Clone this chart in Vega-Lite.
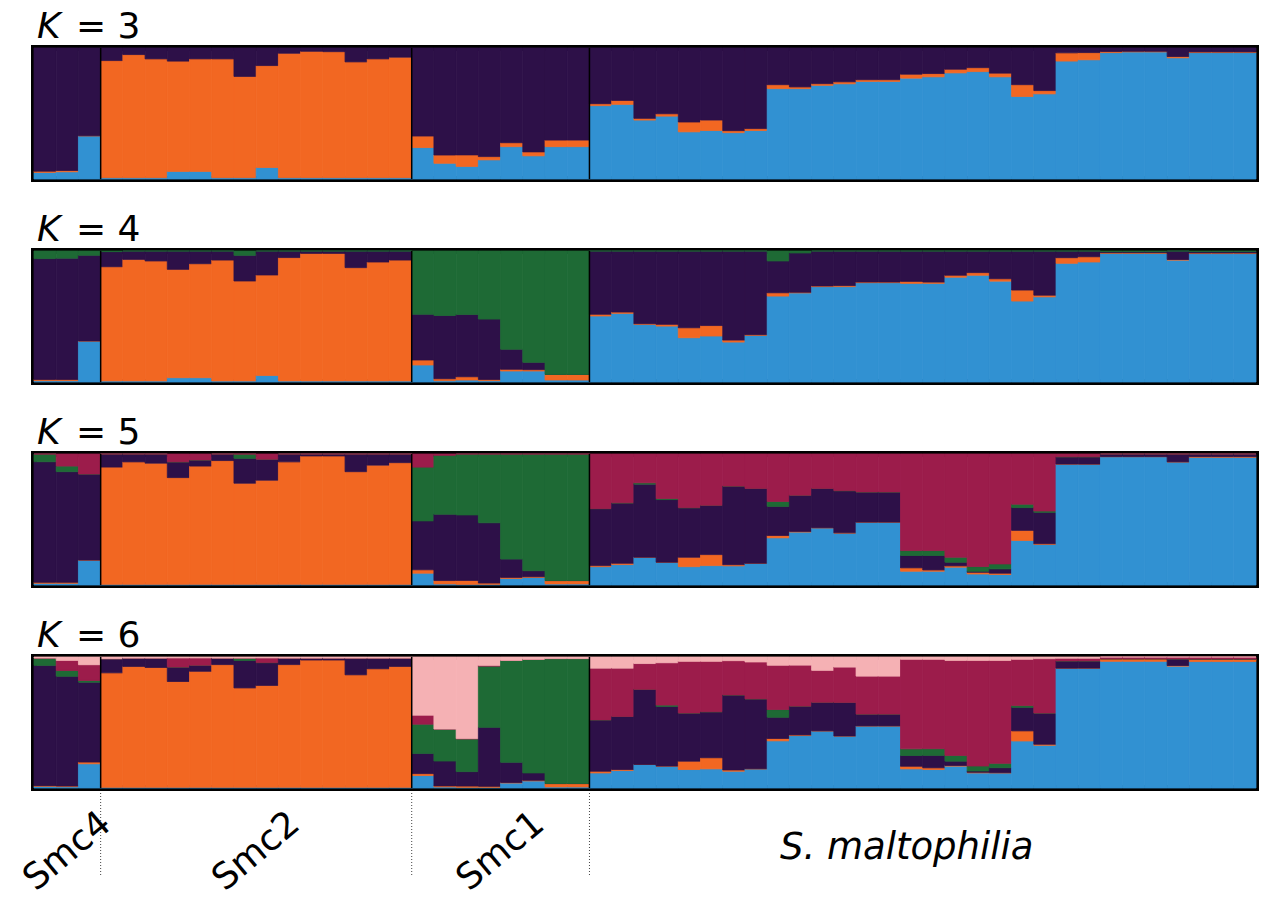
{
"$schema": "https://vega.github.io/schema/vega-lite/v6.json",
"background": "white",
"padding": {"left": 17, "top": 6, "right": 2, "bottom": 2},
"config": {"view": {"stroke": null}, "font": "DejaVu Sans"},
"datasets": {
"groups": [
{"group": "Smc4", "start": 0, "end": 3, "mid": 1.5},
{"group": "Smc2", "start": 3, "end": 17, "mid": 10},
{"group": "Smc1", "start": 17, "end": 25, "mid": 21},
{"group": "S. maltophilia", "start": 25, "end": 55, "mid": 40}
],
"k3": [
{"s":0,"c1":0.05,"c2":0.01,"c3":0.94},
{"s":1,"c1":0.055,"c2":0.01,"c3":0.935},
{"s":2,"c1":0.33,"c2":0,"c3":0.67},
{"s":3,"c1":0.01,"c2":0.894,"c3":0.096},
{"s":4,"c1":0.01,"c2":0.94,"c3":0.05},
{"s":5,"c1":0.01,"c2":0.907,"c3":0.083},
{"s":6,"c1":0.058,"c2":0.842,"c3":0.1},
{"s":7,"c1":0.058,"c2":0.859,"c3":0.083},
{"s":8,"c1":0.01,"c2":0.907,"c3":0.083},
{"s":9,"c1":0.01,"c2":0.773,"c3":0.217},
{"s":10,"c1":0.088,"c2":0.778,"c3":0.134},
{"s":11,"c1":0.01,"c2":0.95,"c3":0.04},
{"s":12,"c1":0.01,"c2":0.965,"c3":0.025},
{"s":13,"c1":0.01,"c2":0.962,"c3":0.028},
{"s":14,"c1":0.01,"c2":0.884,"c3":0.106},
{"s":15,"c1":0.01,"c2":0.907,"c3":0.083},
{"s":16,"c1":0.01,"c2":0.92,"c3":0.07},
{"s":17,"c1":0.24,"c2":0.088,"c3":0.672},
{"s":18,"c1":0.12,"c2":0.063,"c3":0.817},
{"s":19,"c1":0.096,"c2":0.088,"c3":0.816},
{"s":20,"c1":0.146,"c2":0.025,"c3":0.829},
{"s":21,"c1":0.247,"c2":0.03,"c3":0.723},
{"s":22,"c1":0.177,"c2":0.03,"c3":0.793},
{"s":23,"c1":0.247,"c2":0.05,"c3":0.703},
{"s":24,"c1":0.247,"c2":0.05,"c3":0.703},
{"s":25,"c1":0.56,"c2":0.015,"c3":0.425},
{"s":26,"c1":0.57,"c2":0.03,"c3":0.4},
{"s":27,"c1":0.45,"c2":0.013,"c3":0.537},
{"s":28,"c1":0.48,"c2":0.018,"c3":0.502},
{"s":29,"c1":0.36,"c2":0.075,"c3":0.565},
{"s":30,"c1":0.37,"c2":0.08,"c3":0.55},
{"s":31,"c1":0.354,"c2":0.015,"c3":0.631},
{"s":32,"c1":0.37,"c2":0.015,"c3":0.615},
{"s":33,"c1":0.69,"c2":0.03,"c3":0.28},
{"s":34,"c1":0.69,"c2":0.013,"c3":0.297},
{"s":35,"c1":0.715,"c2":0.013,"c3":0.272},
{"s":36,"c1":0.727,"c2":0.015,"c3":0.258},
{"s":37,"c1":0.745,"c2":0.013,"c3":0.242},
{"s":38,"c1":0.745,"c2":0.013,"c3":0.242},
{"s":39,"c1":0.77,"c2":0.03,"c3":0.2},
{"s":40,"c1":0.78,"c2":0.025,"c3":0.195},
{"s":41,"c1":0.81,"c2":0.028,"c3":0.162},
{"s":42,"c1":0.82,"c2":0.03,"c3":0.15},
{"s":43,"c1":0.78,"c2":0.028,"c3":0.192},
{"s":44,"c1":0.63,"c2":0.09,"c3":0.28},
{"s":45,"c1":0.65,"c2":0.025,"c3":0.325},
{"s":46,"c1":0.9,"c2":0.063,"c3":0.037},
{"s":47,"c1":0.91,"c2":0.055,"c3":0.035},
{"s":48,"c1":0.965,"c2":0.008,"c3":0.027},
{"s":49,"c1":0.97,"c2":0.005,"c3":0.025},
{"s":50,"c1":0.97,"c2":0.005,"c3":0.025},
{"s":51,"c1":0.925,"c2":0.01,"c3":0.065},
{"s":52,"c1":0.965,"c2":0.005,"c3":0.03},
{"s":53,"c1":0.965,"c2":0.005,"c3":0.03},
{"s":54,"c1":0.965,"c2":0.005,"c3":0.03}
],
"k4": [
{"s":0,"c1":0.01,"c2":0.01,"c3":0.922,"c4":0.058},
{"s":1,"c1":0.01,"c2":0.01,"c3":0.925,"c4":0.055},
{"s":2,"c1":0.313,"c2":0,"c3":0.654,"c4":0.033},
{"s":3,"c1":0.008,"c2":0.872,"c3":0.115,"c4":0.005},
{"s":4,"c1":0.008,"c2":0.928,"c3":0.064,"c4":0},
{"s":5,"c1":0.008,"c2":0.916,"c3":0.076,"c4":0},
{"s":6,"c1":0.033,"c2":0.827,"c3":0.14,"c4":0},
{"s":7,"c1":0.033,"c2":0.87,"c3":0.097,"c4":0},
{"s":8,"c1":0.008,"c2":0.923,"c3":0.069,"c4":0},
{"s":9,"c1":0.008,"c2":0.763,"c3":0.196,"c4":0.033},
{"s":10,"c1":0.05,"c2":0.767,"c3":0.183,"c4":0},
{"s":11,"c1":0.008,"c2":0.942,"c3":0.05,"c4":0},
{"s":12,"c1":0.008,"c2":0.974,"c3":0.018,"c4":0},
{"s":13,"c1":0.008,"c2":0.974,"c3":0.018,"c4":0},
{"s":14,"c1":0.008,"c2":0.865,"c3":0.127,"c4":0},
{"s":15,"c1":0.008,"c2":0.908,"c3":0.084,"c4":0},
{"s":16,"c1":0.008,"c2":0.923,"c3":0.069,"c4":0},
{"s":17,"c1":0.13,"c2":0.038,"c3":0.349,"c4":0.483},
{"s":18,"c1":0.01,"c2":0.015,"c3":0.483,"c4":0.492},
{"s":19,"c1":0.015,"c2":0.025,"c3":0.476,"c4":0.484},
{"s":20,"c1":0.01,"c2":0.01,"c3":0.46,"c4":0.52},
{"s":21,"c1":0.084,"c2":0.013,"c3":0.153,"c4":0.75},
{"s":22,"c1":0.084,"c2":0.01,"c3":0.056,"c4":0.85},
{"s":23,"c1":0.015,"c2":0.043,"c3":0,"c4":0.942},
{"s":24,"c1":0.015,"c2":0.043,"c3":0,"c4":0.942},
{"s":25,"c1":0.504,"c2":0.013,"c3":0.483,"c4":0},
{"s":26,"c1":0.524,"c2":0.01,"c3":0.466,"c4":0},
{"s":27,"c1":0.44,"c2":0.005,"c3":0.555,"c4":0},
{"s":28,"c1":0.427,"c2":0.013,"c3":0.56,"c4":0},
{"s":29,"c1":0.338,"c2":0.076,"c3":0.586,"c4":0},
{"s":30,"c1":0.351,"c2":0.08,"c3":0.569,"c4":0},
{"s":31,"c1":0.305,"c2":0.015,"c3":0.68,"c4":0},
{"s":32,"c1":0.356,"c2":0.005,"c3":0.639,"c4":0},
{"s":33,"c1":0.656,"c2":0.025,"c3":0.243,"c4":0.076},
{"s":34,"c1":0.68,"c2":0.005,"c3":0.3,"c4":0.015},
{"s":35,"c1":0.728,"c2":0.005,"c3":0.267,"c4":0},
{"s":36,"c1":0.728,"c2":0.008,"c3":0.264,"c4":0},
{"s":37,"c1":0.758,"c2":0.005,"c3":0.237,"c4":0},
{"s":38,"c1":0.758,"c2":0.005,"c3":0.237,"c4":0},
{"s":39,"c1":0.753,"c2":0.015,"c3":0.232,"c4":0},
{"s":40,"c1":0.753,"c2":0.01,"c3":0.237,"c4":0},
{"s":41,"c1":0.8,"c2":0.015,"c3":0.185,"c4":0},
{"s":42,"c1":0.815,"c2":0.02,"c3":0.165,"c4":0},
{"s":43,"c1":0.77,"c2":0.018,"c3":0.212,"c4":0},
{"s":44,"c1":0.618,"c2":0.084,"c3":0.298,"c4":0},
{"s":45,"c1":0.65,"c2":0.013,"c3":0.337,"c4":0},
{"s":46,"c1":0.906,"c2":0.043,"c3":0.051,"c4":0},
{"s":47,"c1":0.916,"c2":0.04,"c3":0.044,"c4":0},
{"s":48,"c1":0.982,"c2":0.005,"c3":0.008,"c4":0.005},
{"s":49,"c1":0.982,"c2":0.005,"c3":0.008,"c4":0.005},
{"s":50,"c1":0.982,"c2":0.005,"c3":0.008,"c4":0.005},
{"s":51,"c1":0.93,"c2":0.005,"c3":0.065,"c4":0},
{"s":52,"c1":0.98,"c2":0.005,"c3":0.01,"c4":0.005},
{"s":53,"c1":0.98,"c2":0.005,"c3":0.01,"c4":0.005},
{"s":54,"c1":0.98,"c2":0.005,"c3":0.01,"c4":0.005}
],
"k5": [
{"s":0,"c1":0.013,"c2":0.008,"c3":0.92,"c4":0.059,"c5":0},
{"s":1,"c1":0.013,"c2":0.008,"c3":0.844,"c4":0.043,"c5":0.092},
{"s":2,"c1":0.19,"c2":0,"c3":0.657,"c4":0,"c5":0.153},
{"s":3,"c1":0.005,"c2":0.895,"c3":0.1,"c4":0,"c5":0},
{"s":4,"c1":0.005,"c2":0.935,"c3":0.06,"c4":0,"c5":0},
{"s":5,"c1":0.005,"c2":0.925,"c3":0.07,"c4":0,"c5":0},
{"s":6,"c1":0.005,"c2":0.815,"c3":0.12,"c4":0,"c5":0.06},
{"s":7,"c1":0.005,"c2":0.903,"c3":0.046,"c4":0,"c5":0.046},
{"s":8,"c1":0.005,"c2":0.945,"c3":0.05,"c4":0,"c5":0},
{"s":9,"c1":0.005,"c2":0.772,"c3":0.19,"c4":0.033,"c5":0},
{"s":10,"c1":0.005,"c2":0.795,"c3":0.16,"c4":0,"c5":0.04},
{"s":11,"c1":0.005,"c2":0.935,"c3":0.06,"c4":0,"c5":0},
{"s":12,"c1":0.005,"c2":0.98,"c3":0.015,"c4":0,"c5":0},
{"s":13,"c1":0.005,"c2":0.98,"c3":0.015,"c4":0,"c5":0},
{"s":14,"c1":0.005,"c2":0.86,"c3":0.135,"c4":0,"c5":0},
{"s":15,"c1":0.005,"c2":0.91,"c3":0.085,"c4":0,"c5":0},
{"s":16,"c1":0.005,"c2":0.929,"c3":0.066,"c4":0,"c5":0},
{"s":17,"c1":0.09,"c2":0.026,"c3":0.373,"c4":0.41,"c5":0.1},
{"s":18,"c1":0.008,"c2":0.026,"c3":0.506,"c4":0.45,"c5":0.01},
{"s":19,"c1":0.005,"c2":0.03,"c3":0.5,"c4":0.465,"c5":0},
{"s":20,"c1":0.005,"c2":0.01,"c3":0.46,"c4":0.525,"c5":0},
{"s":21,"c1":0.05,"c2":0.008,"c3":0.14,"c4":0.802,"c5":0},
{"s":22,"c1":0.058,"c2":0.005,"c3":0.046,"c4":0.891,"c5":0},
{"s":23,"c1":0.008,"c2":0.026,"c3":0,"c4":0.966,"c5":0},
{"s":24,"c1":0.008,"c2":0.026,"c3":0,"c4":0.966,"c5":0},
{"s":25,"c1":0.14,"c2":0.008,"c3":0.435,"c4":0,"c5":0.417},
{"s":26,"c1":0.156,"c2":0.01,"c3":0.46,"c4":0.001,"c5":0.373},
{"s":27,"c1":0.212,"c2":0,"c3":0.558,"c4":0.01,"c5":0.22},
{"s":28,"c1":0.174,"c2":0,"c3":0.478,"c4":0.008,"c5":0.34},
{"s":29,"c1":0.14,"c2":0.072,"c3":0.378,"c4":0,"c5":0.41},
{"s":30,"c1":0.148,"c2":0.084,"c3":0.376,"c4":0,"c5":0.392},
{"s":31,"c1":0.146,"c2":0.009,"c3":0.6,"c4":0,"c5":0.245},
{"s":32,"c1":0.166,"c2":0,"c3":0.571,"c4":0,"c5":0.263},
{"s":33,"c1":0.36,"c2":0.018,"c3":0.222,"c4":0.038,"c5":0.362},
{"s":34,"c1":0.404,"c2":0.005,"c3":0.276,"c4":0,"c5":0.315},
{"s":35,"c1":0.437,"c2":0,"c3":0.3,"c4":0,"c5":0.263},
{"s":36,"c1":0.396,"c2":0.002,"c3":0.322,"c4":0,"c5":0.28},
{"s":37,"c1":0.48,"c2":0,"c3":0.23,"c4":0,"c5":0.29},
{"s":38,"c1":0.48,"c2":0,"c3":0.23,"c4":0,"c5":0.29},
{"s":39,"c1":0.105,"c2":0.026,"c3":0.094,"c4":0.038,"c5":0.737},
{"s":40,"c1":0.105,"c2":0.01,"c3":0.11,"c4":0.038,"c5":0.737},
{"s":41,"c1":0.136,"c2":0.01,"c3":0.028,"c4":0.038,"c5":0.788},
{"s":42,"c1":0.084,"c2":0.013,"c3":0.008,"c4":0.036,"c5":0.859},
{"s":43,"c1":0.08,"c2":0.01,"c3":0.033,"c4":0.038,"c5":0.839},
{"s":44,"c1":0.34,"c2":0.077,"c3":0.174,"c4":0.026,"c5":0.383},
{"s":45,"c1":0.31,"c2":0.005,"c3":0.24,"c4":0.01,"c5":0.435},
{"s":46,"c1":0.923,"c2":0,"c3":0.056,"c4":0,"c5":0.021},
{"s":47,"c1":0.923,"c2":0,"c3":0.056,"c4":0,"c5":0.021},
{"s":48,"c1":0.98,"c2":0,"c3":0.02,"c4":0,"c5":0},
{"s":49,"c1":0.98,"c2":0,"c3":0.02,"c4":0,"c5":0},
{"s":50,"c1":0.98,"c2":0,"c3":0.02,"c4":0,"c5":0},
{"s":51,"c1":0.94,"c2":0,"c3":0.06,"c4":0,"c5":0},
{"s":52,"c1":0.975,"c2":0.005,"c3":0.02,"c4":0,"c5":0},
{"s":53,"c1":0.975,"c2":0.005,"c3":0.02,"c4":0,"c5":0},
{"s":54,"c1":0.975,"c2":0.005,"c3":0.02,"c4":0,"c5":0}
],
"k6": [
{"s":0,"c1":0.013,"c2":0.005,"c3":0.918,"c4":0.056,"c5":0,"c6":0.008},
{"s":1,"c1":0.01,"c2":0.005,"c3":0.838,"c4":0.044,"c5":0.077,"c6":0.026},
{"s":2,"c1":0.185,"c2":0.013,"c3":0.61,"c4":0.013,"c5":0.12,"c6":0.059},
{"s":3,"c1":0.005,"c2":0.874,"c3":0.108,"c4":0,"c5":0,"c6":0.013},
{"s":4,"c1":0.005,"c2":0.923,"c3":0.064,"c4":0,"c5":0,"c6":0.008},
{"s":5,"c1":0.005,"c2":0.915,"c3":0.072,"c4":0,"c5":0,"c6":0.008},
{"s":6,"c1":0.005,"c2":0.808,"c3":0.11,"c4":0,"c5":0.07,"c6":0.007},
{"s":7,"c1":0.005,"c2":0.886,"c3":0.046,"c4":0,"c5":0.056,"c6":0.007},
{"s":8,"c1":0.005,"c2":0.937,"c3":0.05,"c4":0,"c5":0,"c6":0.008},
{"s":9,"c1":0.005,"c2":0.759,"c3":0.21,"c4":0.018,"c5":0,"c6":0.008},
{"s":10,"c1":0.005,"c2":0.778,"c3":0.174,"c4":0,"c5":0.036,"c6":0.007},
{"s":11,"c1":0.005,"c2":0.937,"c3":0.05,"c4":0,"c5":0,"c6":0.008},
{"s":12,"c1":0.005,"c2":0.972,"c3":0.015,"c4":0,"c5":0,"c6":0.008},
{"s":13,"c1":0.005,"c2":0.972,"c3":0.015,"c4":0,"c5":0,"c6":0.008},
{"s":14,"c1":0.005,"c2":0.859,"c3":0.128,"c4":0,"c5":0,"c6":0.008},
{"s":15,"c1":0.005,"c2":0.905,"c3":0.082,"c4":0,"c5":0,"c6":0.008},
{"s":16,"c1":0.005,"c2":0.923,"c3":0.064,"c4":0,"c5":0,"c6":0.008},
{"s":17,"c1":0.095,"c2":0.015,"c3":0.154,"c4":0.223,"c5":0.069,"c6":0.444},
{"s":18,"c1":0.008,"c2":0.008,"c3":0.19,"c4":0.244,"c5":0,"c6":0.55},
{"s":19,"c1":0.005,"c2":0.01,"c3":0.11,"c4":0.25,"c5":0.002,"c6":0.623},
{"s":20,"c1":0.005,"c2":0.008,"c3":0.45,"c4":0.467,"c5":0.006,"c6":0.064},
{"s":21,"c1":0.038,"c2":0.004,"c3":0.154,"c4":0.778,"c5":0,"c6":0.026},
{"s":22,"c1":0.054,"c2":0.005,"c3":0.056,"c4":0.867,"c5":0,"c6":0.018},
{"s":23,"c1":0.008,"c2":0.026,"c3":0,"c4":0.954,"c5":0,"c6":0.012},
{"s":24,"c1":0.008,"c2":0.026,"c3":0,"c4":0.954,"c5":0,"c6":0.012},
{"s":25,"c1":0.115,"c2":0.013,"c3":0.392,"c4":0,"c5":0.395,"c6":0.085},
{"s":26,"c1":0.133,"c2":0.008,"c3":0.405,"c4":0,"c5":0.369,"c6":0.085},
{"s":27,"c1":0.18,"c2":0,"c3":0.573,"c4":0,"c5":0.197,"c6":0.05},
{"s":28,"c1":0.167,"c2":0,"c3":0.456,"c4":0.01,"c5":0.323,"c6":0.044},
{"s":29,"c1":0.141,"c2":0.064,"c3":0.367,"c4":0,"c5":0.395,"c6":0.033},
{"s":30,"c1":0.146,"c2":0.085,"c3":0.351,"c4":0,"c5":0.385,"c6":0.033},
{"s":31,"c1":0.128,"c2":0.01,"c3":0.572,"c4":0,"c5":0.262,"c6":0.028},
{"s":32,"c1":0.146,"c2":0.001,"c3":0.533,"c4":0,"c5":0.282,"c6":0.038},
{"s":33,"c1":0.36,"c2":0.018,"c3":0.162,"c4":0.059,"c5":0.338,"c6":0.063},
{"s":34,"c1":0.4,"c2":0.005,"c3":0.22,"c4":0,"c5":0.313,"c6":0.062},
{"s":35,"c1":0.436,"c2":0,"c3":0.218,"c4":0,"c5":0.244,"c6":0.102},
{"s":36,"c1":0.397,"c2":0,"c3":0.256,"c4":0,"c5":0.27,"c6":0.077},
{"s":37,"c1":0.474,"c2":0,"c3":0.09,"c4":0,"c5":0.29,"c6":0.146},
{"s":38,"c1":0.474,"c2":0,"c3":0.09,"c4":0,"c5":0.29,"c6":0.146},
{"s":39,"c1":0.146,"c2":0.02,"c3":0.082,"c4":0.051,"c5":0.683,"c6":0.018},
{"s":40,"c1":0.141,"c2":0.013,"c3":0.095,"c4":0.051,"c5":0.682,"c6":0.018},
{"s":41,"c1":0.167,"c2":0.005,"c3":0.033,"c4":0.044,"c5":0.725,"c6":0.026},
{"s":42,"c1":0.115,"c2":0.005,"c3":0.01,"c4":0.038,"c5":0.806,"c6":0.026},
{"s":43,"c1":0.115,"c2":0.002,"c3":0.038,"c4":0.033,"c5":0.786,"c6":0.026},
{"s":44,"c1":0.359,"c2":0.077,"c3":0.18,"c4":0.013,"c5":0.353,"c6":0.018},
{"s":45,"c1":0.326,"c2":0.008,"c3":0.238,"c4":0,"c5":0.415,"c6":0.013},
{"s":46,"c1":0.915,"c2":0,"c3":0.055,"c4":0,"c5":0.02,"c6":0.01},
{"s":47,"c1":0.915,"c2":0,"c3":0.055,"c4":0,"c5":0.02,"c6":0.01},
{"s":48,"c1":0.967,"c2":0.02,"c3":0,"c4":0,"c5":0.013,"c6":0},
{"s":49,"c1":0.967,"c2":0.02,"c3":0,"c4":0,"c5":0.013,"c6":0},
{"s":50,"c1":0.967,"c2":0.02,"c3":0,"c4":0,"c5":0.013,"c6":0},
{"s":51,"c1":0.93,"c2":0.005,"c3":0.05,"c4":0,"c5":0.015,"c6":0},
{"s":52,"c1":0.965,"c2":0.02,"c3":0,"c4":0,"c5":0.015,"c6":0},
{"s":53,"c1":0.965,"c2":0.02,"c3":0,"c4":0,"c5":0.015,"c6":0},
{"s":54,"c1":0.965,"c2":0.02,"c3":0,"c4":0,"c5":0.015,"c6":0}
]
},
"spacing": 0,
"vconcat": [
{
"spacing": 72,
"bounds": "flush",
"vconcat": [
{
"width": 1222, "height": 131,
"view": {"stroke": "black", "strokeWidth": 6},
"layer": [
{"data": {"name": "k3"},
"transform": [{"fold": ["c1","c2","c3"], "as": ["cluster","q"]}],
"mark": {"type": "bar", "strokeWidth": 0.8},
"encoding": {
"x": {"field": "s", "type": "ordinal", "axis": null, "scale": {"paddingInner": 0, "paddingOuter": 0, "domain": [0,1,2,3,4,5,6,7,8,9,10,11,12,13,14,15,16,17,18,19,20,21,22,23,24,25,26,27,28,29,30,31,32,33,34,35,36,37,38,39,40,41,42,43,44,45,46,47,48,49,50,51,52,53,54]}},
"y": {"field": "q", "type": "quantitative", "stack": "normalize", "axis": null},
"color": {"field": "cluster", "type": "nominal", "legend": null, "scale": {"domain": ["c1","c2","c3","c4","c5","c6"], "range": ["#3191d2","#f26722","#2d1048","#1e6a35","#9c1c4b","#f5b1b4"]}},
"stroke": {"field": "cluster", "type": "nominal", "legend": null, "scale": {"domain": ["c1","c2","c3","c4","c5","c6"], "range": ["#3191d2","#f26722","#2d1048","#1e6a35","#9c1c4b","#f5b1b4"]}},
"order": {"field": "cluster", "sort": "ascending"}
}},
{"data": {"name": "groups"},
"transform": [{"filter": "datum.start > 0"}],
"mark": {"type": "rule", "color": "black", "strokeWidth": 1.5},
"encoding": {"x": {"field": "start", "type": "ordinal", "bandPosition": 0}}},
{"data": {"values": [{"k": "K", "n": "= 3"}]},
"mark": {"type": "text", "fontStyle": "italic", "fontSize": 36, "align": "left", "baseline": "alphabetic", "dx": 3, "dy": -10, "color": "black"},
"encoding": {"x": {"datum": 0, "type": "ordinal", "bandPosition": 0}, "y": {"datum": 1, "type": "quantitative"}, "text": {"field": "k"}}},
{"data": {"values": [{"k": "K", "n": "= 3"}]},
"mark": {"type": "text", "fontSize": 36, "align": "left", "baseline": "alphabetic", "dx": 42, "dy": -10, "color": "black"},
"encoding": {"x": {"datum": 0, "type": "ordinal", "bandPosition": 0}, "y": {"datum": 1, "type": "quantitative"}, "text": {"field": "n"}}}
]
},
{
"width": 1222, "height": 131,
"view": {"stroke": "black", "strokeWidth": 6},
"layer": [
{"data": {"name": "k4"},
"transform": [{"fold": ["c1","c2","c3","c4"], "as": ["cluster","q"]}],
"mark": {"type": "bar", "strokeWidth": 0.8},
"encoding": {
"x": {"field": "s", "type": "ordinal", "axis": null, "scale": {"paddingInner": 0, "paddingOuter": 0, "domain": [0,1,2,3,4,5,6,7,8,9,10,11,12,13,14,15,16,17,18,19,20,21,22,23,24,25,26,27,28,29,30,31,32,33,34,35,36,37,38,39,40,41,42,43,44,45,46,47,48,49,50,51,52,53,54]}},
"y": {"field": "q", "type": "quantitative", "stack": "normalize", "axis": null},
"color": {"field": "cluster", "type": "nominal", "legend": null, "scale": {"domain": ["c1","c2","c3","c4","c5","c6"], "range": ["#3191d2","#f26722","#2d1048","#1e6a35","#9c1c4b","#f5b1b4"]}},
"stroke": {"field": "cluster", "type": "nominal", "legend": null, "scale": {"domain": ["c1","c2","c3","c4","c5","c6"], "range": ["#3191d2","#f26722","#2d1048","#1e6a35","#9c1c4b","#f5b1b4"]}},
"order": {"field": "cluster", "sort": "ascending"}
}},
{"data": {"name": "groups"},
"transform": [{"filter": "datum.start > 0"}],
"mark": {"type": "rule", "color": "black", "strokeWidth": 1.5},
"encoding": {"x": {"field": "start", "type": "ordinal", "bandPosition": 0}}},
{"data": {"values": [{"k": "K", "n": "= 4"}]},
"mark": {"type": "text", "fontStyle": "italic", "fontSize": 36, "align": "left", "baseline": "alphabetic", "dx": 3, "dy": -10, "color": "black"},
"encoding": {"x": {"datum": 0, "type": "ordinal", "bandPosition": 0}, "y": {"datum": 1, "type": "quantitative"}, "text": {"field": "k"}}},
{"data": {"values": [{"k": "K", "n": "= 4"}]},
"mark": {"type": "text", "fontSize": 36, "align": "left", "baseline": "alphabetic", "dx": 42, "dy": -10, "color": "black"},
"encoding": {"x": {"datum": 0, "type": "ordinal", "bandPosition": 0}, "y": {"datum": 1, "type": "quantitative"}, "text": {"field": "n"}}}
]
},
{
"width": 1222, "height": 131,
"view": {"stroke": "black", "strokeWidth": 6},
"layer": [
{"data": {"name": "k5"},
"transform": [{"fold": ["c1","c2","c3","c4","c5"], "as": ["cluster","q"]}],
"mark": {"type": "bar", "strokeWidth": 0.8},
"encoding": {
"x": {"field": "s", "type": "ordinal", "axis": null, "scale": {"paddingInner": 0, "paddingOuter": 0, "domain": [0,1,2,3,4,5,6,7,8,9,10,11,12,13,14,15,16,17,18,19,20,21,22,23,24,25,26,27,28,29,30,31,32,33,34,35,36,37,38,39,40,41,42,43,44,45,46,47,48,49,50,51,52,53,54]}},
"y": {"field": "q", "type": "quantitative", "stack": "normalize", "axis": null},
"color": {"field": "cluster", "type": "nominal", "legend": null, "scale": {"domain": ["c1","c2","c3","c4","c5","c6"], "range": ["#3191d2","#f26722","#2d1048","#1e6a35","#9c1c4b","#f5b1b4"]}},
"stroke": {"field": "cluster", "type": "nominal", "legend": null, "scale": {"domain": ["c1","c2","c3","c4","c5","c6"], "range": ["#3191d2","#f26722","#2d1048","#1e6a35","#9c1c4b","#f5b1b4"]}},
"order": {"field": "cluster", "sort": "ascending"}
}},
{"data": {"name": "groups"},
"transform": [{"filter": "datum.start > 0"}],
"mark": {"type": "rule", "color": "black", "strokeWidth": 1.5},
"encoding": {"x": {"field": "start", "type": "ordinal", "bandPosition": 0}}},
{"data": {"values": [{"k": "K", "n": "= 5"}]},
"mark": {"type": "text", "fontStyle": "italic", "fontSize": 36, "align": "left", "baseline": "alphabetic", "dx": 3, "dy": -10, "color": "black"},
"encoding": {"x": {"datum": 0, "type": "ordinal", "bandPosition": 0}, "y": {"datum": 1, "type": "quantitative"}, "text": {"field": "k"}}},
{"data": {"values": [{"k": "K", "n": "= 5"}]},
"mark": {"type": "text", "fontSize": 36, "align": "left", "baseline": "alphabetic", "dx": 42, "dy": -10, "color": "black"},
"encoding": {"x": {"datum": 0, "type": "ordinal", "bandPosition": 0}, "y": {"datum": 1, "type": "quantitative"}, "text": {"field": "n"}}}
]
},
{
"width": 1222, "height": 131,
"view": {"stroke": "black", "strokeWidth": 6},
"layer": [
{"data": {"name": "k6"},
"transform": [{"fold": ["c1","c2","c3","c4","c5","c6"], "as": ["cluster","q"]}],
"mark": {"type": "bar", "strokeWidth": 0.8},
"encoding": {
"x": {"field": "s", "type": "ordinal", "axis": null, "scale": {"paddingInner": 0, "paddingOuter": 0, "domain": [0,1,2,3,4,5,6,7,8,9,10,11,12,13,14,15,16,17,18,19,20,21,22,23,24,25,26,27,28,29,30,31,32,33,34,35,36,37,38,39,40,41,42,43,44,45,46,47,48,49,50,51,52,53,54]}},
"y": {"field": "q", "type": "quantitative", "stack": "normalize", "axis": null},
"color": {"field": "cluster", "type": "nominal", "legend": null, "scale": {"domain": ["c1","c2","c3","c4","c5","c6"], "range": ["#3191d2","#f26722","#2d1048","#1e6a35","#9c1c4b","#f5b1b4"]}},
"stroke": {"field": "cluster", "type": "nominal", "legend": null, "scale": {"domain": ["c1","c2","c3","c4","c5","c6"], "range": ["#3191d2","#f26722","#2d1048","#1e6a35","#9c1c4b","#f5b1b4"]}},
"order": {"field": "cluster", "sort": "ascending"}
}},
{"data": {"name": "groups"},
"transform": [{"filter": "datum.start > 0"}],
"mark": {"type": "rule", "color": "black", "strokeWidth": 1.5},
"encoding": {"x": {"field": "start", "type": "ordinal", "bandPosition": 0}}},
{"data": {"values": [{"k": "K", "n": "= 6"}]},
"mark": {"type": "text", "fontStyle": "italic", "fontSize": 36, "align": "left", "baseline": "alphabetic", "dx": 3, "dy": -10, "color": "black"},
"encoding": {"x": {"datum": 0, "type": "ordinal", "bandPosition": 0}, "y": {"datum": 1, "type": "quantitative"}, "text": {"field": "k"}}},
{"data": {"values": [{"k": "K", "n": "= 6"}]},
"mark": {"type": "text", "fontSize": 36, "align": "left", "baseline": "alphabetic", "dx": 42, "dy": -10, "color": "black"},
"encoding": {"x": {"datum": 0, "type": "ordinal", "bandPosition": 0}, "y": {"datum": 1, "type": "quantitative"}, "text": {"field": "n"}}}
]
}
]
},
{
"width": 1222, "height": 110,
"data": {"name": "groups"},
"layer": [
{"transform": [{"filter": "datum.start > 0"}],
"mark": {"type": "rule", "strokeDash": [1, 2], "color": "#444444", "strokeWidth": 1},
"encoding": {
"x": {"field": "start", "type": "quantitative", "axis": null, "scale": {"domain": [0, 55], "nice": false, "zero": false}},
"y": {"datum": 1, "type": "quantitative", "axis": null, "scale": {"domain": [0, 1], "nice": false}},
"y2": {"datum": 0.25}}},
{"transform": [{"filter": "datum.group != 'S. maltophilia'"}],
"mark": {"type": "text", "angle": 320, "fontSize": 36, "align": "center", "baseline": "middle", "color": "black"},
"encoding": {
"x": {"field": "mid", "type": "quantitative"},
"y": {"datum": 0.47, "type": "quantitative"},
"text": {"field": "group"}}},
{"transform": [{"filter": "datum.group == 'S. maltophilia'"}],
"mark": {"type": "text", "fontStyle": "italic", "fontSize": 37, "align": "center", "baseline": "middle", "dx": -16, "color": "black"},
"encoding": {
"x": {"field": "mid", "type": "quantitative"},
"y": {"datum": 0.5, "type": "quantitative"},
"text": {"field": "group"}}}
]
}
]
}
